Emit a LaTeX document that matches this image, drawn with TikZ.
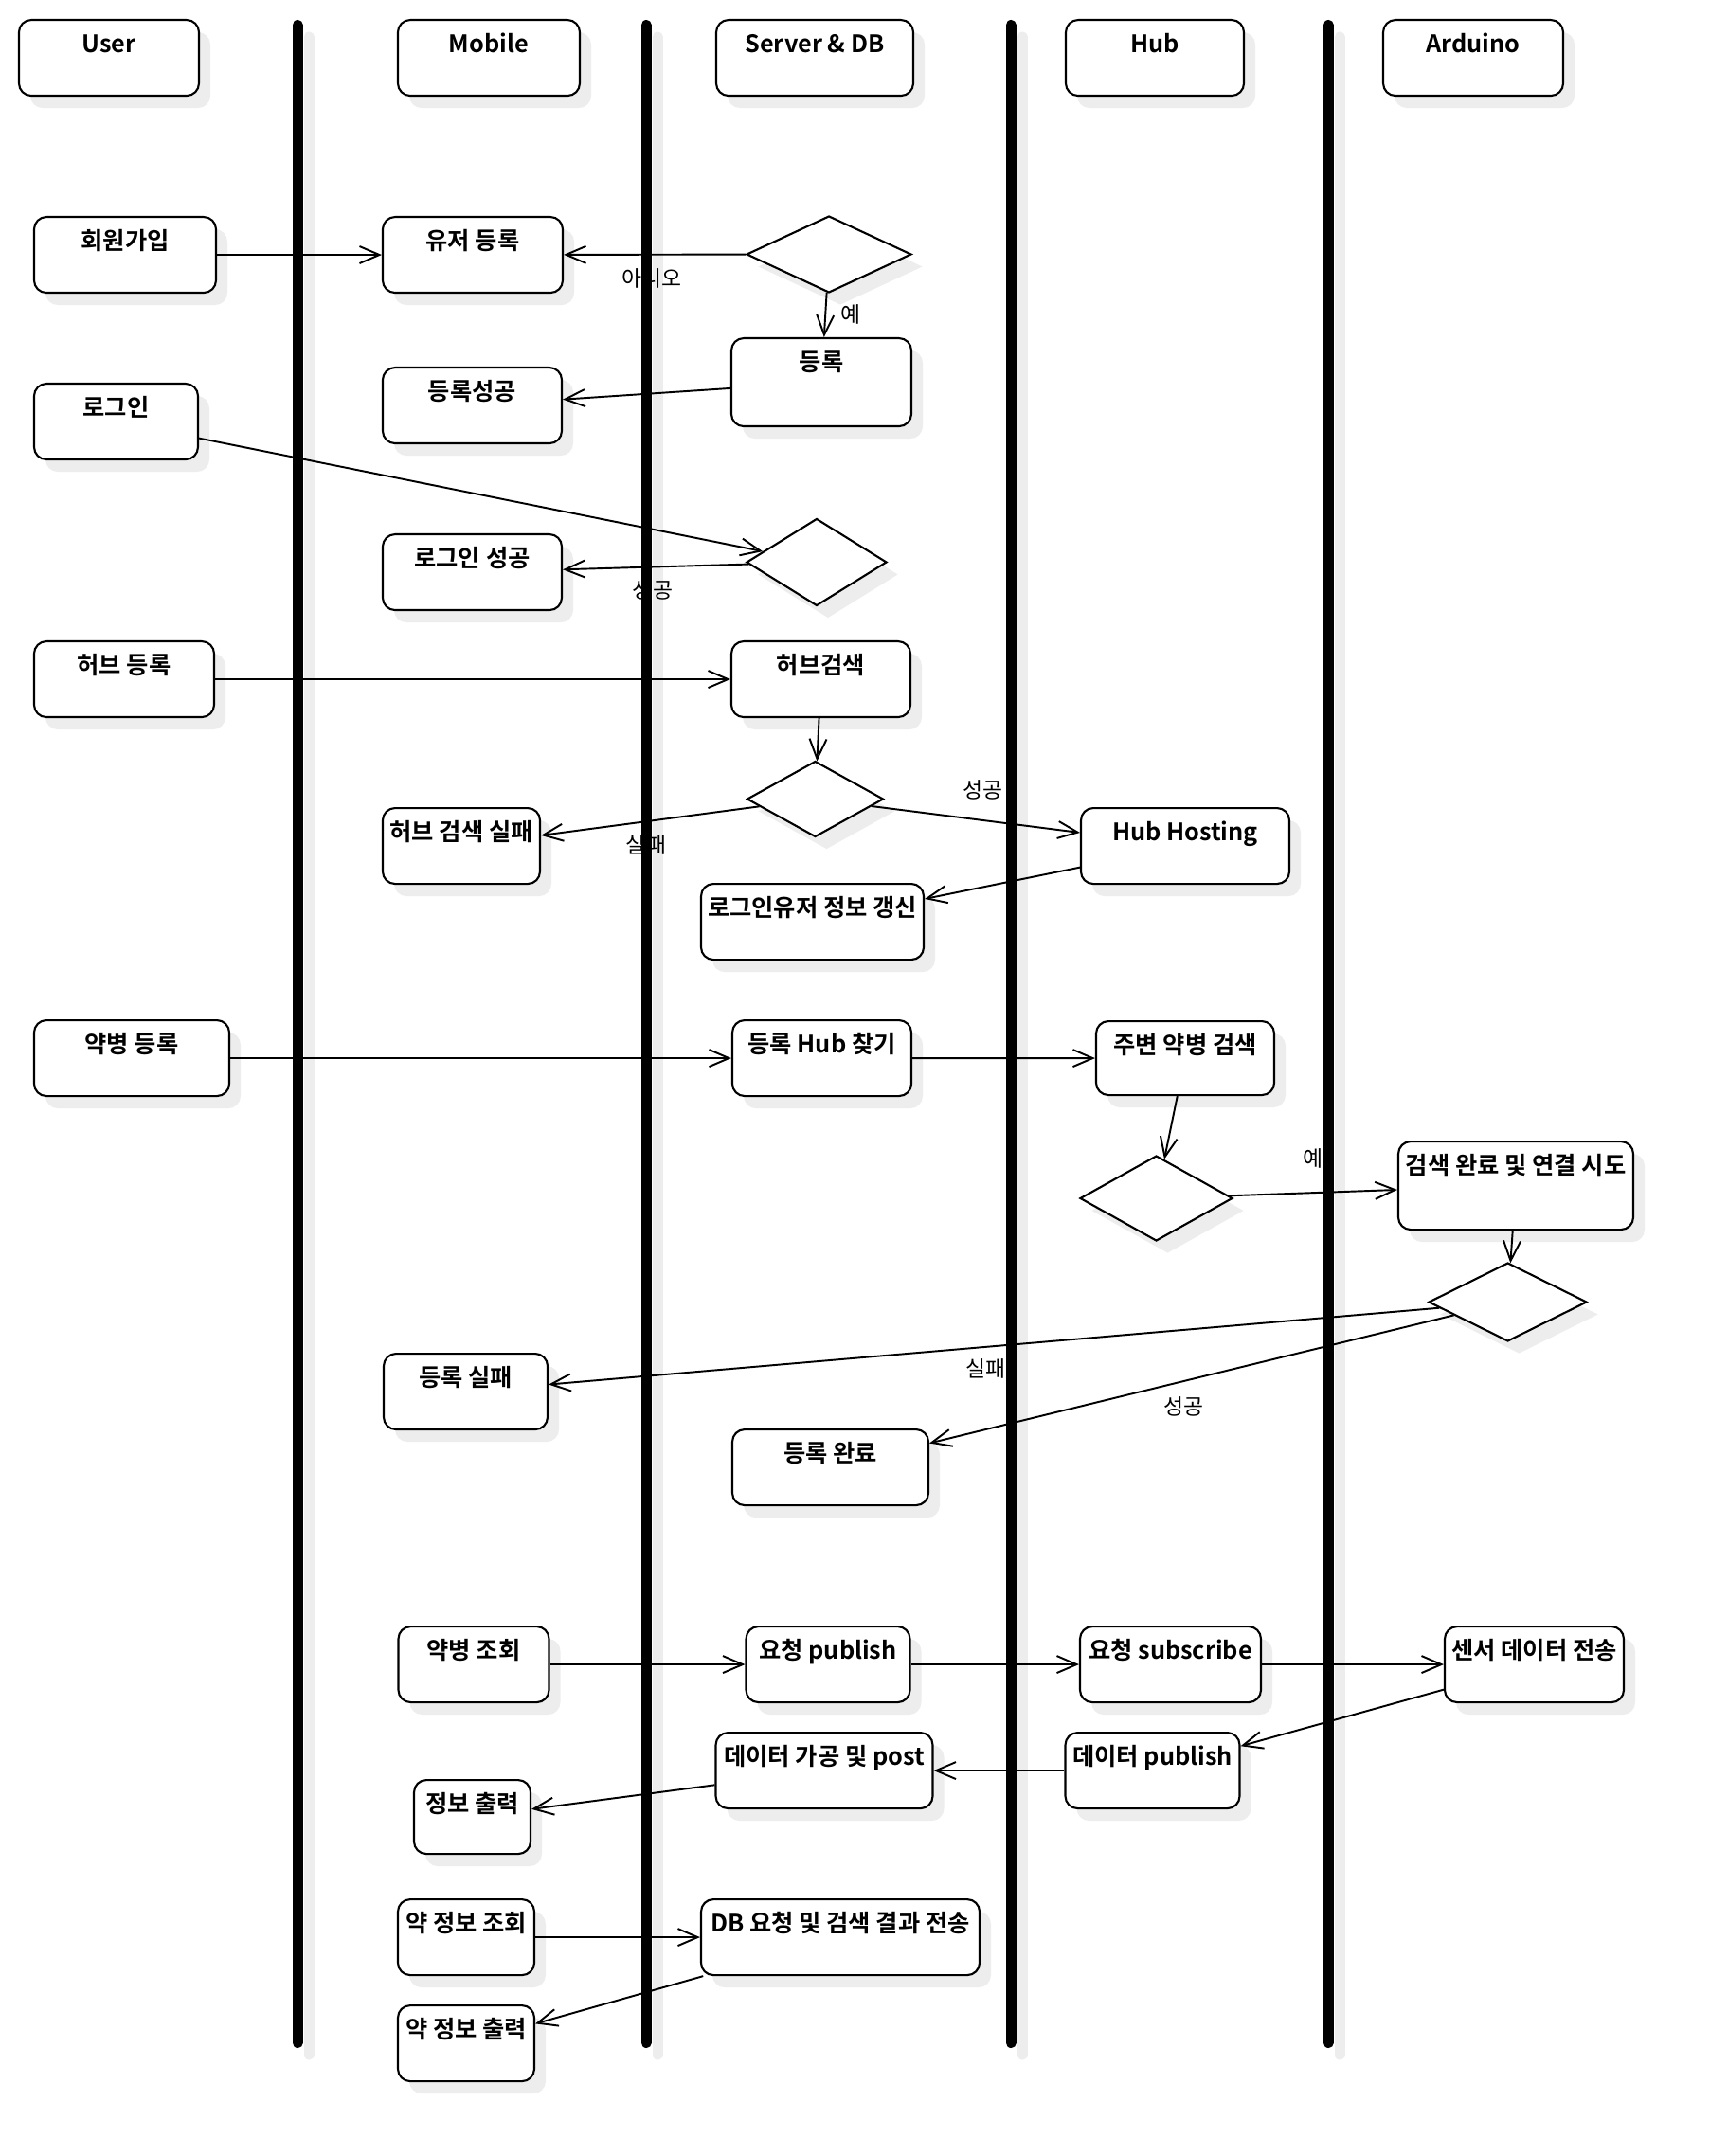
\documentclass[tikz,border=0pt]{standalone}
\usepackage{fontspec}
\setmainfont{Noto Sans CJK KR}[BoldFont={Noto Sans CJK KR Bold}]
\usetikzlibrary{shapes.geometric,shadows,arrows.meta}

\tikzset{
  boxshadow/.style={drop shadow={shadow xshift=0.12cm, shadow yshift=-0.13cm, fill=black!7, opacity=1}},
  act/.style={draw, line width=0.6pt, rounded corners=0.13cm, fill=white, anchor=north,
    inner xsep=0pt, inner ysep=0.1cm, text height=0.24cm, text depth=0.36cm,
    font=\fontsize{7.2}{8}\selectfont\bfseries, boxshadow},
  cond/.style={diamond, draw, line width=0.6pt, fill=white, inner sep=0pt, boxshadow},
  lbl/.style={font=\fontsize{6.5}{7}\selectfont, inner sep=0pt},
  flow/.style={->, line width=0.55pt},
  lane/.style={line width=0.11cm, line cap=round},
}

\begin{document}
\begin{tikzpicture}[>={Straight Barb[length=0.21cm, width=0.18cm]}]
  \fill[white] (0,0) rectangle (18.04,-22.76);
  \useasboundingbox (0,0) rectangle (18.04,-22.76);

  % lane shadows
  \draw[lane, black!7] (3.26,-0.39) -- (3.26,-21.69);
  \draw[lane, black!7] (6.94,-0.39) -- (6.94,-21.69);
  \draw[lane, black!7] (10.79,-0.39) -- (10.79,-21.69);
  \draw[lane, black!7] (14.14,-0.39) -- (14.14,-21.69);

  % headers
  \node[act, minimum width=1.9cm] (user) at (1.15,-0.2) {User};
  \node[act, minimum width=1.92cm] (mobile) at (5.16,-0.2) {Mobile};
  \node[act, minimum width=2.08cm] (server) at (8.6,-0.2) {Server \& DB};
  \node[act, minimum width=1.88cm] (hub) at (12.19,-0.2) {Hub};
  \node[act, minimum width=1.9cm] (arduino) at (15.55,-0.2) {Arduino};

  % sign up
  \node[act, minimum width=1.92cm] (join) at (1.32,-2.28) {회원가입};
  \node[act, minimum width=1.9cm] (reguser) at (4.99,-2.28) {유저 등록};
  \node[cond, minimum width=1.74cm, minimum height=0.81cm] (d1) at (8.75,-2.685) {};
  \node[act, minimum width=1.9cm, text depth=0.49cm] (reg) at (8.67,-3.56) {등록};
  \node[act, minimum width=1.89cm] (regok) at (4.985,-3.87) {등록성공};

  % login
  \node[act, minimum width=1.73cm] (login) at (1.225,-4.04) {로그인};
  \node[cond, minimum width=1.48cm, minimum height=0.92cm] (d2) at (8.62,-5.935) {};
  \node[act, minimum width=1.89cm] (loginok) at (4.985,-5.63) {로그인 성공};

  % hub
  \node[act, minimum width=1.9cm] (hubreg) at (1.31,-6.76) {허브 등록};
  \node[act, minimum width=1.89cm] (hubfind) at (8.665,-6.76) {허브검색};
  \node[cond, minimum width=1.44cm, minimum height=0.8cm] (d3) at (8.605,-8.435) {};
  \node[act, minimum width=1.66cm] (hubfail) at (4.87,-8.52) {허브 검색 실패};
  \node[act, minimum width=2.2cm] (hosting) at (12.51,-8.52) {Hub Hosting};
  \node[act, minimum width=2.35cm] (update) at (8.575,-9.32) {로그인유저 정보 갱신};

  % bottle
  \node[act, minimum width=2.06cm] (botreg) at (1.39,-10.76) {약병 등록};
  \node[act, minimum width=1.89cm] (findhub) at (8.675,-10.76) {등록 Hub 찾기};
  \node[act, minimum width=1.88cm, text depth=0.34cm] (scan) at (12.51,-10.77) {주변 약병 검색};
  \node[cond, minimum width=1.61cm, minimum height=0.9cm] (d4) at (12.205,-12.65) {};
  \node[act, minimum width=2.48cm, text depth=0.49cm] (connect) at (16.0,-12.04) {검색 완료 및 연결 시도};
  \node[cond, minimum width=1.67cm, minimum height=0.83cm] (d5) at (15.915,-13.745) {};
  \node[act, minimum width=1.73cm] (regfail) at (4.915,-14.28) {등록 실패};
  \node[act, minimum width=2.07cm] (regdone) at (8.765,-15.08) {등록 완료};

  % query
  \node[act, minimum width=1.59cm] (query) at (5.0,-17.16) {약병 조회};
  \node[act, minimum width=1.73cm] (reqpub) at (8.74,-17.16) {요청 publish};
  \node[act, minimum width=1.91cm] (reqsub) at (12.355,-17.16) {요청 subscribe};
  \node[act, minimum width=1.89cm] (sensor) at (16.195,-17.16) {센서 데이터 전송};
  \node[act, minimum width=1.84cm] (datapub) at (12.165,-18.28) {데이터 publish};
  \node[act, minimum width=2.29cm] (process) at (8.7,-18.28) {데이터 가공 및 post};
  \node[act, minimum width=1.23cm, text depth=0.34cm] (show) at (4.985,-18.78) {정보 출력};

  % medicine
  \node[act, minimum width=1.44cm] (medq) at (4.92,-20.04) {약 정보 조회};
  \node[act, minimum width=2.94cm] (dbreq) at (8.87,-20.04) {DB 요청 및 검색 결과 전송};
  \node[act, minimum width=1.44cm] (medshow) at (4.92,-21.16) {약 정보 출력};

  % flows
  \draw[flow] (join) -- (reguser);
  \draw[flow] (d1) -- (reguser);
  \draw[flow] (d1) -- (reg);
  \draw[flow] (reg) -- (regok);
  \draw[flow] (login) -- (d2);
  \draw[flow] (d2) -- (loginok);
  \draw[flow] (hubreg) -- (hubfind);
  \draw[flow] (hubfind) -- (d3);
  \draw[flow] (d3) -- (hubfail);
  \draw[flow] (d3) -- (hosting);
  \draw[flow] (hosting) -- (update);
  \draw[flow] (botreg) -- (findhub);
  \draw[flow] (findhub) -- (scan);
  \draw[flow] (scan) -- (d4);
  \draw[flow] (d4) -- (connect);
  \draw[flow] (connect) -- (d5);
  \draw[flow] (d5) -- (regfail);
  \draw[flow] (d5) -- (regdone);
  \draw[flow] (query) -- (reqpub);
  \draw[flow] (reqpub) -- (reqsub);
  \draw[flow] (reqsub) -- (sensor);
  \draw[flow] (sensor) -- (datapub);
  \draw[flow] (datapub) -- (process);
  \draw[flow] (process) -- (show);
  \draw[flow] (medq) -- (dbreq);
  \draw[flow] (dbreq) -- (medshow);

  % guards
  \node[lbl] (no1) at (6.88,-2.94) {아니오};
  \node[lbl] (yes1) at (8.98,-3.32) {예};
  \node[lbl] (ok1) at (6.89,-6.23) {성공};
  \node[lbl] (fail1) at (6.82,-8.92) {실패};
  \node[lbl] (ok2) at (10.37,-8.34) {성공};
  \node[lbl] (yes2) at (13.86,-12.23) {예};
  \node[lbl] (fail2) at (10.4,-14.45) {실패};
  \node[lbl] (ok3) at (12.49,-14.85) {성공};

  % lanes
  \draw[lane] (3.14,-0.265) -- (3.14,-21.565);
  \draw[lane] (6.82,-0.265) -- (6.82,-21.565);
  \draw[lane] (10.67,-0.265) -- (10.67,-21.565);
  \draw[lane] (14.02,-0.265) -- (14.02,-21.565);
\end{tikzpicture}
\end{document}
